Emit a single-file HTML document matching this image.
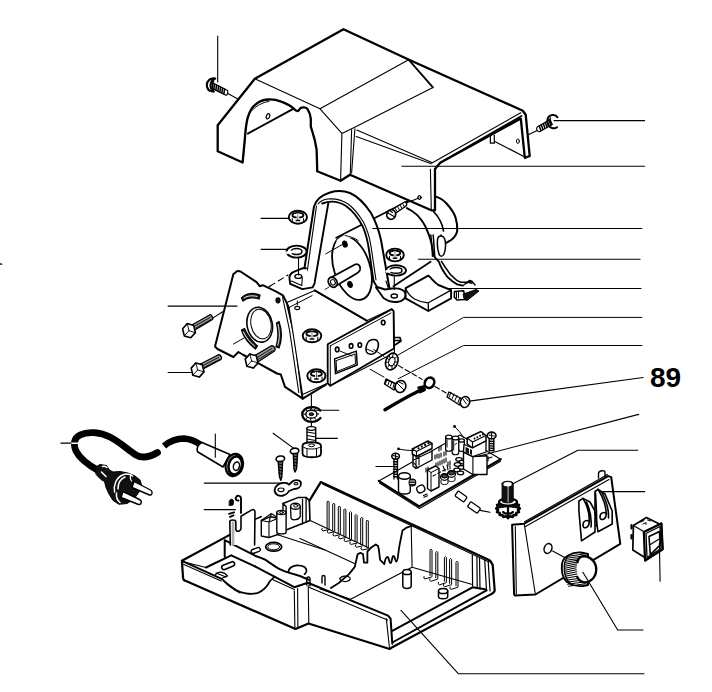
<!DOCTYPE html>
<html><head><meta charset="utf-8"><style>
html,body{margin:0;padding:0;background:#fff;width:712px;height:692px;overflow:hidden;}
svg{display:block;}
text{font-family:"Liberation Sans",sans-serif;}
</style></head><body>
<svg width="712" height="692" viewBox="0 0 712 692" fill="none" stroke="#000" stroke-linejoin="round" stroke-linecap="round">
<!-- HOUSING -->
<g id="housing">
<path stroke-width="2.3" fill="#fff" d="M217.7,125.2 L254.8,78.8 L343.5,29.2 L409,59.7 L522.8,110.7 L525.7,114.7 L529.7,156 L524.8,157.9 L520.8,118.6 L440.2,162.8 L435,169 L435,210.3 L431.3,210.3 L350,174.7 L340.6,180.8 L317.2,171.2 L317,161.4 L316.6,149.8 L314.9,140.6 L312.6,132.5 L310.8,126.7 L310.8,118.6 C310.5,115 309.5,112 307.4,108.8 C305.5,107 302,107 300.4,108.2 L298.1,111.1 L295.8,110.5 C292,106.5 288,104 281.9,101.8 C277,100 272,99.3 268,99.5 C262,100 258,102 255.3,104.7 C252,107 249.5,112 247.8,117.4 C246.5,122 245.5,130 244.9,138.2 L243.8,149.8 L242.6,162.5 L217.7,151.3 Z"/>
<path stroke-width="1.1" d="M254.8,78.8 L320,108.8 L408.6,59.7 M320,108.8 L341.9,133.4 L340.6,180.8 M341.9,133.4 L354.2,127.5 L432.9,87.4 M356.8,130.1 L432.4,162.8 L520.8,112.7 M356.2,136.6 L431.3,163.7 M351.6,130 L350.3,174.3 M354.9,128.8 L351.6,173 M430.4,169.2 L431.3,210.3"/>
<path stroke-width="1.8" d="M408.6,59.7 L432.9,87.4 M440.2,162.8 L521.5,116"/>
<path stroke-width="1.9" d="M247.8,133.6 L292.3,109.3"/>
<path stroke-width="1" d="M251.9,110.5 C256,106 262,102.5 269.2,101.2 M246.1,126.7 L243.2,160.2"/>
<ellipse cx="268" cy="116.3" rx="1.6" ry="2.7" stroke-width="1.2" transform="rotate(20 268 116.3)"/>
<path stroke-width="1.2" d="M490.4,135.3 L490.4,143.2 L494.3,143.2 L494.3,135.3 M494.3,141.2 L524.8,157"/>
<ellipse cx="517.9" cy="141.2" rx="1.5" ry="2.2" stroke-width="1"/>
<ellipse cx="419.5" cy="197.5" rx="1.6" ry="1.8" stroke-width="1"/>
</g>

<!-- screws near housing + leaders -->
<g id="leaders1" stroke-width="1.1">
<path d="M217.7,36 L217.7,82 M228.3,93.8 L237.4,98.7 M554,120.6 L644.6,120.6 M528.8,134.6 L537.2,130.4 M401.9,166.3 L644.6,166.3"/>
</g>
<g id="screw1">
<path stroke-width="1.2" fill="#fff" d="M213,83 L227.2,90.3 C228.6,91.2 227.6,95.3 226,95.3 L212.5,88.6 Z"/>
<path stroke-width="1.5" d="M214.5,84.2 l-0.6,4.6 M216.5,85.2 l-0.6,4.6 M218.5,86.2 l-0.6,4.6 M220.5,87.2 l-0.6,4.6 M222.5,88.2 l-0.6,4.6 M224.5,89.2 l-0.6,4.6"/>
<path stroke-width="2.1" fill="#fff" d="M215.3,78.6 C210.5,77.5 206.8,81 206.8,85 C206.8,89 209.5,91.5 213.8,91.6 C211,89.5 210,86.5 210.8,83.5 C211.5,81 213,79.5 215.3,78.6 Z"/>
<path stroke-width="1.3" d="M213.6,81.5 C212,83.5 211.8,87 213.6,89.8"/>
</g>
<g id="screw2">
<path stroke-width="1.2" fill="#fff" d="M537,127.2 L550,119.6 L552.3,124.6 L539.5,131.7 C537.5,132 536,129 537,127.2 Z"/>
<path stroke-width="1.5" d="M539.3,126 l1.6,4.6 M541.3,124.8 l1.6,4.6 M543.3,123.6 l1.6,4.6 M545.3,122.4 l1.6,4.6 M547.3,121.2 l1.6,4.6 M549.3,120 l1.6,4.6"/>
<path stroke-width="2" d="M557.5,117.3 C555.5,114.5 551.5,114 549,116.5 C547,118.5 546.8,122.5 548.5,125.5 C550.5,128.5 554.5,129 557,127.2"/>
<path stroke-width="1.3" d="M550.5,118 C549.5,120 549.5,123 551,125.5"/>
</g>
<!-- MOTOR -->
<g id="motor">
<path stroke-width="1.8" d="M336.2,237.7 L408,201"/>
<path stroke-width="2" d="M435.8,196.6 C440,198 444,200.5 447,204 C451,208.5 454,213 455.5,217.4 C457,222 457.5,227 457.2,231.2 C456.5,234 455.5,235.5 454.3,237 C452.5,239.5 450.5,241 446.2,242.8"/>
<path stroke-width="1.9" d="M406.9,208.1 C411,210 414.5,212.5 417.3,215.1 C420.5,218.5 423,222 424.9,225.5 C427,230 428.8,234 430,238.2 C431.3,242 432,245.5 432.4,248.6 L434,256 C435.5,258.5 437,260 438.7,261.4 C440,264.5 441,267.5 442.6,269.8 C444.5,273 446,275.5 448.2,277.7 C451,280.5 454,282.8 457.2,284.4 L462.8,285.6"/>
<path stroke-width="1.6" d="M433.5,211.6 C435.5,213.5 437,215.5 438.2,217.4 C440,220 441.2,222.5 442.2,225.5 L443.5,231 M441.5,261.4 C443.5,264.5 445,267.5 447.1,269.8 C449,273 451,275.5 453.8,277.7 C456,280 458,281.5 460.6,282.2 L468.4,282.2 L471.8,283.3"/>
<path stroke-width="1.5" d="M430.8,235 C431.5,242 432.2,249 432.5,256.3 M433.2,235 C433.8,242 434.3,249 434.7,256.3 M446.2,242.8 C444,241.5 442,238 441,235"/>
<path stroke-width="1.5" fill="#fff" d="M437.8,238 C439,235 443,235.5 444.5,238.5 C446,242 446,249 444,254 C442.5,257 440,257 439,254 C437.5,249.5 437,243 437.8,238 Z"/>
<path stroke-width="1.4" d="M467,283 L469.5,280.5 L472,281.5"/>
<ellipse cx="352" cy="268" rx="18" ry="33" stroke-width="1.8" fill="#fff" transform="rotate(-18 352 268)"/>
<path stroke="#fff" stroke-width="3" d="M338,241 C343,236.5 350,235.5 356,237.5"/>
<path stroke-width="1" d="M345.6,235.6 C350,236.5 355,238 358.2,240.6 M325.8,253.9 L342,244.7"/>
<ellipse cx="344.9" cy="244.1" rx="2.2" ry="3" stroke-width="1.2" fill="#000" transform="rotate(-15 344.9 244.1)"/>
<ellipse cx="350" cy="284.5" rx="2.2" ry="3" stroke-width="1.2" fill="#000" transform="rotate(-15 350 284.5)"/>
<path stroke-width="1.8" fill="#fff" d="M331,277.5 L355,264.5 C358.5,263 361,266.5 360,270 C359.5,271.5 358.5,272.5 357,273.3 L335,286.5 Z"/>
<ellipse cx="332.7" cy="282.2" rx="4.2" ry="5.3" stroke-width="1.8" fill="#fff" transform="rotate(-30 332.7 282.2)"/>
<ellipse cx="332.9" cy="282.3" rx="2.2" ry="2.8" stroke-width="1.1" transform="rotate(-30 332.9 282.3)"/>
<path stroke-width="0.9" d="M325,289.5 L329,287"/>
</g>
<!-- screw on housing front -->
<g id="screw3">
<path stroke-width="1.1" d="M401,205 L419,198"/>
<ellipse cx="419.5" cy="197.5" rx="1.6" ry="1.9" stroke-width="1"/>
<path stroke-width="1.4" fill="#fff" d="M392,209.5 L404.5,202 C406.5,201.5 407.5,204.5 406,206 L394.5,214 Z"/>
<path stroke-width="1" d="M395,208 l2,3.5 M397.5,206.5 l2,3.5 M400,205 l2,3.5 M402.5,203.5 l2,3.5"/>
<ellipse cx="391.2" cy="214.5" rx="4.4" ry="4.8" stroke-width="1.8" fill="#fff" transform="rotate(20 391.2 214.5)"/>
<path stroke-width="1.1" d="M388,213 L394,216.5 M390,211 L392.5,212.5"/>
</g>
<!-- ARCH STRAP -->
<g id="arch">
<path fill="#fff" stroke="none" d="M302,284 L314,206.5 C316,199 322,195 330,192.5 C337,190.5 344,190.8 350,193 C358,196.5 365,204 371,213 C376,222 379,231 381,240 L386,281 L375,281 L369,250 C368,243 366,234 363,227 C359,219 353,211 346,206 C340,202.5 334,202 328.5,203 L312.6,285.8 Z"/>
<path stroke-width="2" d="M302,284 L314,206.5 C316,199 322,195 330,192.5 C337,190.5 344,190.8 350,193 C358,196.5 365,204 371,213 C376,222 379,231 381,240 L389.5,288.6"/>
<path stroke-width="1.1" d="M318,204 C321,200.5 325,199 329,198.9 C336,198.5 342,200 348.1,204 C353,207.5 359,215 363.3,221.7 C367,229 369.5,237 370.8,245 L376,280 M316.5,206 L305,287"/>
<path stroke-width="1.9" d="M322.2,203.5 C330,200.5 338,201 346,206 C353,211 359,219 363,227 C366,234 368,243 369,250 L373.5,281 M328.5,202.1 L314.5,283.3"/>
<path stroke-width="1.9" fill="#fff" d="M306,268.2 L302.3,268.3 L293.7,271.8 C290,273.5 289,276.5 289.6,279.5 L290.2,283.9 L302.3,289.1 L312.7,287.4 L314.5,283.3"/>
<path stroke-width="1.1" d="M291.4,281 L301.8,285.6 L302.3,277"/>
<ellipse cx="298.3" cy="276.4" rx="3.4" ry="2" stroke-width="1.4"/>
<path stroke-width="1.9" fill="#fff" d="M373.5,281 L377,287 L385,289.5 L392,288.5 C398,288 404,289.5 405.5,293.5 C406.5,297.5 403,301.5 397,302 C392,302.3 387,300.5 383.5,298 L376,287.5"/>
<path stroke-width="1.1" d="M386,281 L388.5,288.8"/>
<ellipse cx="394.3" cy="296" rx="3.2" ry="2" stroke-width="1.4"/>
</g>


<!-- nuts & washers column -->
<path stroke-width="1.1" stroke-dasharray="6 4" d="M269.7,286.3 L288,275"/>
<g id="nutsL">
<path stroke-width="1.1" d="M261.2,218.4 L289.4,218.4 M261.2,249.4 L288,249.4 M298.5,257.5 L298.5,275 M269.1,286.7 L270,286.1 M372.7,228.5 L641.9,228.5 M418.4,259.3 L640.1,259.3 M418.4,288.5 L641,288.5 M394.3,276.4 L394.3,289.4"/>
<g><ellipse cx="297.9" cy="217.2" rx="9.12" ry="6.5120000000000005" stroke-width="1.9" fill="#fff"/>
<ellipse cx="297.9" cy="215.25" rx="5.47" ry="2.34" stroke-width="1.9"/>
<path stroke-width="1.5" stroke-linecap="butt" d="M297.9,213.16 L297.9,220.46 M295.62,220.46 L300.18,220.46"/>
<path stroke="#fff" stroke-width="1" d="M297.10,213.62 L297.10,219.15 M298.70,213.62 L298.70,219.15"/>
<path stroke-width="1" d="M292.25,218.50 L292.25,222.08 M303.55,218.50 L303.55,222.08"/></g><g><ellipse cx="296.6" cy="251.6" rx="10" ry="6" stroke-width="1.9" fill="#fff"/>
<ellipse cx="296.6" cy="251.6" rx="5.4" ry="3" stroke-width="1.5"/>
<path stroke="#fff" stroke-width="2.6" d="M287.10,252.60 L291.70,252.10"/></g><g><ellipse cx="395.0" cy="255.0" rx="8.835" ry="6.336" stroke-width="1.9" fill="#fff"/>
<ellipse cx="395.0" cy="253.10" rx="5.30" ry="2.28" stroke-width="1.9"/>
<path stroke-width="1.5" stroke-linecap="butt" d="M395.0,251.07 L395.0,258.17 M392.79,258.17 L397.21,258.17"/>
<path stroke="#fff" stroke-width="1" d="M394.20,251.52 L394.20,256.90 M395.80,251.52 L395.80,256.90"/>
<path stroke-width="1" d="M389.52,256.27 L389.52,259.75 M400.48,256.27 L400.48,259.75"/></g><g><ellipse cx="396" cy="270.4" rx="10" ry="5.2" stroke-width="1.9" fill="#fff"/>
<ellipse cx="396" cy="270.4" rx="6" ry="2.8" stroke-width="1.5"/>
<path stroke="#fff" stroke-width="2.6" d="M386.50,271.40 L390.50,270.90"/></g>
</g>
<!-- saddle + block + connector -->
<g id="saddle">
<path stroke-width="1.8" d="M393.5,286.2 L430.6,261.8"/>
<path stroke-width="1.9" fill="#fff" d="M405.6,288.2 L428.3,275.6 C430,277 431,278 432.1,279.4 C434,281.5 436,283.5 438.4,285 L451.1,290.1 L451.1,298.3 L428.3,311 L405.6,298.3 Z"/>
<path stroke-width="1.3" d="M405.8,289 C407.5,293 410,296 414.4,299 C419,301.5 423.5,302.5 428.3,302.8 L451.1,290.1 M428.3,302.8 L428.3,311"/>
<path stroke-width="1.6" fill="#fff" d="M454.5,291.5 L463.5,290.8 L465,296 L465,299.5 L457,300 L454.3,297 Z"/>
<path fill="#111" stroke-width="1" d="M463.5,294 L476,289.5 L479,291 L467,300.5 L464.5,299.5 Z"/>
<path stroke-width="1" d="M456.5,292.5 L456.5,298 M458.5,292.5 L458.5,298"/>
<path stroke-width="1.3" d="M463.7,285 L469,281 L472,281.5 L475.1,285"/>
</g>
<!-- PLATE (motor mount) -->
<g id="plate">
<path stroke-width="2" fill="#fff" d="M235.5,272.5 C236.5,271 238.5,270.7 240.5,271.5 L256.6,282.2 L259.7,286.2 L262.7,285.2 L275.8,291.3 L282.9,295.3 L287,303.4 L295,337.8 L301.5,391.5 L302.7,398.7 L285,386.9 L280.8,374.5 L277,373.5 L243.5,355 L238.4,352 L233.4,357 L217.5,349 L215,346.5 L233.4,274.1 Z"/>
<path stroke-width="1.1" d="M282.5,297 L289.5,330 L298.8,392.5"/>
<ellipse cx="259.7" cy="324.7" rx="12.6" ry="17.6" stroke-width="1.6" transform="rotate(-12 259.7 324.7)" fill="#fff"/>
<ellipse cx="261" cy="324" rx="10" ry="15" stroke-width="1" transform="rotate(-12 261 324)"/>
<path stroke-width="1.3" fill="#222" d="M241.5,298 C246,293 254,292.5 260,295 L259,299 C254,297 247,297.5 243,301 Z"/>
<path stroke="#fff" stroke-width="0.9" d="M244,298 C248,295.5 253,295.3 257,296.5"/>
<path stroke-width="1.3" fill="#222" d="M241.5,330 C244,338 249,344 255.5,349 L257.5,346 C252,341 247,335 244.5,328.5 Z"/>
<path stroke="#fff" stroke-width="0.9" d="M243.5,332 C246,338 250,342.5 254.5,346"/>
<path stroke-width="1.3" fill="#222" d="M279,321.5 C282,330 282,340 279,348 L276,347 C278.5,339 278.5,331 276.5,323 Z"/>
<path stroke="#fff" stroke-width="0.9" d="M278,324.5 C279.8,331 279.8,339 277.8,345"/>
<ellipse cx="278" cy="300.3" rx="2" ry="2.5" stroke-width="1.2" fill="#111"/>
<path stroke-width="1" d="M233.6,344 L244,338"/>
</g>
<!-- bolts left -->
<g id="bolts">
<path stroke-width="1.1" d="M168.1,306.1 L237,306.1 M168.1,372.5 L198.2,372.5 M212.3,318.4 L222.7,311.7"/>
<path stroke-width="1.4" fill="#999" d="M191,325.5 L209.5,315 C211.5,314 213.5,318 212.5,319.5 L194,330.5 Z"/>
<path stroke-width="0.9" d="M195,326 L210,317.5 M196,328 L211,319.5"/>
<path d="M195.4,332.6 L190.7,337.8 L184.3,335.9 L182.6,328.8 L187.3,323.6 L193.7,325.5 Z" stroke-width="1.6" fill="#fff"/>
<path stroke-width="0.9" d="M189.0,330.7 L195.4,332.6 M189.0,330.7 L184.3,335.9 M189.0,330.7 L187.3,323.6"/>
<path stroke-width="1.4" fill="#999" d="M199.5,364.5 L218,355 C220.5,354 222.5,358 221,359.5 L202,369.5 Z"/>
<path stroke-width="0.9" d="M203,365.5 L218.5,357.5 M204,367.5 L219.5,359.5"/>
<path d="M204.0,371.9 L199.3,377.1 L192.9,375.2 L191.2,368.1 L195.9,362.9 L202.3,364.8 Z" stroke-width="1.6" fill="#fff"/>
<path stroke-width="0.9" d="M197.6,370.0 L204.0,371.9 M197.6,370.0 L192.9,375.2 M197.6,370.0 L195.9,362.9"/>
<path stroke-width="1.4" fill="#999" d="M254,356 L271,346 C274,345 276,349 274.5,351 L257,362.5 Z"/>
<path stroke-width="0.9" d="M257,357.5 L272,348.5 M258,359.5 L273,350.5"/>
<path d="M258.0,362.9 L253.3,368.1 L246.9,366.2 L245.2,359.1 L249.9,353.9 L256.3,355.8 Z" stroke-width="1.6" fill="#fff"/>
<path stroke-width="0.9" d="M251.6,361.0 L258.0,362.9 M251.6,361.0 L246.9,366.2 M251.6,361.0 L249.9,353.9"/>
</g>


<!-- BOX (bracket body) -->
<g id="box">
<path stroke-width="1.1" fill="#fff" d="M286.9,302.5 L314.7,290.4 L366.7,320.7 L391.8,309.1 L393.6,311.2 L394.4,352.8 L330.3,385.8 L327.7,383.2 L302.5,394.4 L289,307 Z"/>
<path stroke-width="2" d="M314.7,290.4 L366.7,320.7 M302.7,398.7 L326.3,384.4"/>
<path stroke-width="1.8" fill="#fff" d="M327.7,344.2 L391.8,309.1 L393.6,311.2 L394,348.5 L330.3,385.8 L327.7,383.2 Z"/>
<path stroke-width="1.6" d="M394,337.5 L400,337.5 L401,341 L394.2,345.5 M394.2,340.5 L399.5,340.5"/>
<path stroke-width="1" d="M330.3,345.9 L391,313 M330.3,345.9 L330.3,385.8 M288.7,307.7 L312.1,295.6"/>
<path stroke-width="1" stroke-dasharray="4 3" d="M297.3,301 L297.3,308"/>
<ellipse cx="297.3" cy="308" rx="2.5" ry="1.6" stroke-width="1.1"/>
<!-- nuts on box -->
<g><ellipse cx="312.0" cy="335.8" rx="9.31" ry="6.5120000000000005" stroke-width="1.9" fill="#fff"/>
<ellipse cx="312.0" cy="333.85" rx="5.59" ry="2.34" stroke-width="1.9"/>
<path stroke-width="1.5" stroke-linecap="butt" d="M312.0,331.76 L312.0,339.06 M309.67,339.06 L314.33,339.06"/>
<path stroke="#fff" stroke-width="1" d="M311.20,332.22 L311.20,337.75 M312.80,332.22 L312.80,337.75"/>
<path stroke-width="1" d="M306.23,337.10 L306.23,340.68 M317.77,337.10 L317.77,340.68"/></g><g><ellipse cx="316.4" cy="375.8" rx="9.12" ry="6.5120000000000005" stroke-width="1.9" fill="#fff"/>
<ellipse cx="316.4" cy="373.85" rx="5.47" ry="2.34" stroke-width="1.9"/>
<path stroke-width="1.5" stroke-linecap="butt" d="M316.4,371.76 L316.4,379.06 M314.12,379.06 L318.68,379.06"/>
<path stroke="#fff" stroke-width="1" d="M315.60,372.22 L315.60,377.75 M317.20,372.22 L317.20,377.75"/>
<path stroke-width="1" d="M310.75,377.10 L310.75,380.68 M322.05,377.10 L322.05,380.68"/></g>
<!-- end plate features -->
<path stroke-width="1.5" d="M334.6,358.9 L356.3,351.1 L357.2,365 L335.5,373.6 Z"/>
<path stroke-width="1" d="M336.5,360.5 L355,354 L355.5,364 L337,371.5 Z"/>
<ellipse cx="337.2" cy="349.4" rx="1.8" ry="2.3" stroke-width="1.6"/>
<ellipse cx="351.1" cy="345.9" rx="1.8" ry="2.3" stroke-width="1.6"/>
<ellipse cx="359.8" cy="345" rx="1.8" ry="2.3" stroke-width="1.6"/>
<ellipse cx="383.2" cy="322.5" rx="1.8" ry="2.3" stroke-width="1.6"/>
<path stroke-width="1.6" d="M367.5,343 C369,339.5 374,338.5 377,340.5 C379.5,343 378.5,349 375.5,352.5 C372.5,355 368,355 366.5,352 C365.5,349 366,346 367.5,343 Z"/>
<path stroke-width="1" d="M366.8,349 L373.6,352 M340,351 L352,356 M373.6,349.4 L384,356.3 M370.2,369.3 L384,377.1 M398.3,354.9 L463.6,317.4 L641.9,317.4 M398.3,378.7 L463.6,345.5 L641.9,345.5"/>
</g>
<!-- lock washer, screw, terminal -->
<g id="smallparts">
<ellipse cx="391.8" cy="361.5" rx="6" ry="8.6" stroke-width="1.6" fill="#fff" transform="rotate(20 391.8 361.5)"/>
<ellipse cx="391.8" cy="361.5" rx="3" ry="4.5" stroke-width="1.1" transform="rotate(20 391.8 361.5)"/>
<path stroke-width="1" d="M389,355 L390,358 M393,354.5 L392.5,357.5 M396.5,357 L394.5,359 M397.5,362 L395,362 M396,366.5 L394,364.5 M392,368.5 L392,365.5 M388,367 L389.5,364.5 M386,362.5 L388.5,362 M386.5,358 L389,359.5"/>
<path stroke-width="1.4" fill="#fff" d="M386,379 L396,384 L394,390 L384.5,384 Z"/>
<path stroke-width="1" d="M387,379.5 l-1.5,4 M389.5,380.5 l-1.5,4.5 M392,381.5 l-1.5,4.5 M394.5,383 l-1.5,4.5"/>
<ellipse cx="400.5" cy="386.5" rx="5.3" ry="6" stroke-width="1.6" fill="#fff" transform="rotate(20 400.5 386.5)"/>
<path stroke-width="1" d="M397,383 L404,390 M399,382 L403,384"/>
</g>


<!-- POWER CORD -->
<g id="cord">
<path stroke-width="6.8" d="M99,471 C90,466 80,459 76,451 C73,444 74,438 80,435 C88,431 100,432 110,437 C120,442 128,450 136,455 C143,459 150,457 157.5,452.5"/>
<path stroke-width="6.5" stroke-linecap="butt" d="M164,446 C170,441 176,438.5 184,438.5 C191,439 196,441.5 201,445"/>
<path stroke="#fff" stroke-width="1.6" d="M70,443.3 L80,443.3"/>
<path stroke-width="1.1" d="M60.9,443.1 L71,443.1"/>
<!-- plug -->
<path fill="#111" stroke-width="1" d="M95,467.5 L100,464.5 L106.5,465.5 L109.5,470 L113,472 L120,471.5 L128,473 L135,476 L140,480 L141.5,485 L139,492 L134,499 L127,503.5 L119,504.3 L113,500.5 L109,494 L106,487.5 L104.5,481.5 L101,479.5 L96.5,475 Z"/>
<path stroke="#fff" stroke-width="1.6" d="M101.5,472 L106,476.5 M102.5,466.5 C104,466 106,466.5 107,467.5"/>
<path stroke="#fff" stroke-width="1.5" d="M114.5,492 C113.5,485 116,478 122.5,475 C126,473.5 129.5,474 132.5,476 M116.5,493 C116,498 118,501 120,502.5 M118,489 C118,483 120,479 125,477"/>
<path stroke="#fff" stroke-width="1.2" d="M131,474.5 C130,477 130,479 131.5,481"/>
<path fill="#fff" stroke-width="1.4" d="M134,481.5 L150.5,490 C153,491.5 152.5,495.5 149.5,495 L132,487.5 Z"/>
<path fill="#fff" stroke-width="1.4" d="M123,491.5 L139.5,499.5 C142.5,501 141.5,505 138.5,504.5 L121,497.5 Z"/>
</g>
<!-- grommet -->
<g id="grommet">
<path stroke-width="1.6" fill="#fff" d="M202,442.5 L230,454.4 L223,467 L197.5,451.8 C196,449 198,444 202,442.5 Z"/>
<ellipse cx="234.3" cy="465" rx="8.6" ry="11.2" stroke-width="2.2" fill="#fff" transform="rotate(15 234.3 465)"/>
<ellipse cx="235.2" cy="465.4" rx="6.6" ry="9.2" stroke-width="2.6" transform="rotate(15 235.2 465.4)"/>
<ellipse cx="236.4" cy="466.2" rx="3" ry="4.3" stroke-width="1.4" transform="rotate(15 236.4 466.2)"/>
<path stroke-width="1.1" d="M215.3,434 L215.3,457.2"/>
</g>
<!-- PCB -->
<g id="pcb">
<path stroke-width="1.2" fill="#fff" d="M378.8,480.9 L460,435 L500.7,459.2 L419.2,506.4 Z"/>
<path stroke-width="2.2" d="M378.8,480.9 L419.2,506.4 L500.7,459.2"/>
<path stroke-width="1.1" d="M379.5,483 L419.5,508.5 L500.5,461.3"/>
<!-- left terminal block + bracket -->
<path stroke-width="1.4" fill="#fff" d="M413,455 L413,466 L416,468.5 L432,460 L432,451"/>
<path stroke-width="1.1" d="M416,457.5 L416,468.5 M419,456 L419,465 M413,460 L431.5,451.5 M414,463 L418,468"/>
<path stroke-width="1.5" fill="#fff" d="M412.3,449 L428,441 L432,443.5 L432,448.5 L416.5,456.5 L412.3,454 Z"/>
<path stroke-width="1.1" d="M412.3,449 L416.5,451.5 L432,443.5 M416.5,451.5 L416.5,456.5"/>
<circle cx="418.5" cy="448.3" r="1.1" fill="#000" stroke="none"/>
<circle cx="421.8" cy="446.6" r="1.1" fill="#000" stroke="none"/>
<circle cx="425.1" cy="444.9" r="1.1" fill="#000" stroke="none"/>
<circle cx="428.4" cy="443.2" r="1.1" fill="#000" stroke="none"/>
<path stroke-width="1" d="M398.5,448.9 C403,450 408,450.5 413.5,450.6 M454.5,426.4 C458,430 461,433 463.5,437.5"/>
<circle cx="398.5" cy="448.9" r="1.4" fill="#000" stroke="none"/>
<circle cx="454.5" cy="426.4" r="1.4" fill="#000" stroke="none"/>
<!-- resistor dashes -->
<path stroke-width="1.1" d="M439,447 L439,451 M441,446 L441,450 M439,454 L439,458 M441,453 L441,457 M435,455 L435,459 M437,454 L437,458 M444,452 L444,456 M446,451 L446,455 M444,459 L444,463 M446,458 L446,462 M440,461 L440,465 M442,460 L442,464 M448,462 L448,466 M450,461 L450,465 M436,463 L436,467 M438,462 L438,466 M426,468 L426,472 M428,467 L428,471"/>
<!-- big cap -->
<path stroke-width="1.4" fill="#fff" d="M398.5,476 L398.5,491 C398.5,495 410.3,495 410.3,491 L410.3,476"/>
<ellipse cx="404.4" cy="476" rx="5.9" ry="3.2" stroke-width="1.4" fill="#fff"/>
<ellipse cx="412.4" cy="482.5" rx="3.3" ry="3.5" stroke-width="1.2" fill="#222"/>
<path stroke="#fff" stroke-width="0.8" d="M410,481 L414.5,481 M410,483.5 L414.5,483.5"/>
<rect x="416.8" y="485.5" width="8" height="7" rx="3" stroke-width="1.3" fill="#fff" transform="rotate(-25 420.8 489)"/>
<path stroke-width="1.2" d="M423.5,495.5 L427,494 M424,497.3 L427.5,495.8"/>
<!-- relay white -->
<path stroke-width="1.4" fill="#fff" d="M427.5,470 L435.5,466 L439,468.5 L439,487 L431,491 L427.5,488.5 Z"/>
<path stroke-width="1" d="M427.5,470 L431,472.5 L439,468.5 M431,472.5 L431,491"/>
<!-- dark coils -->
<ellipse cx="444.5" cy="477" rx="4" ry="3.3" stroke-width="1.3" fill="#fff"/>
<ellipse cx="444.5" cy="476" rx="2.8" ry="1.8" stroke-width="1.2" fill="#444"/>
<ellipse cx="451.5" cy="474" rx="4" ry="3.3" stroke-width="1.3" fill="#fff"/>
<ellipse cx="451.5" cy="473" rx="2.8" ry="1.8" stroke-width="1.2" fill="#444"/>
<path stroke-width="1" d="M441,480.5 L441,483 C441,485 448,485 448,483 L448,480.5 M448,477.5 L448,480 C448,482 455,482 455,480 L455,477.5"/>
<path stroke-width="1.1" d="M443,466 L445,471 M447,465 L448,470 M450,466 L450,469"/>
<!-- caps cluster -->
<path stroke-width="1.2" fill="#fff" d="M445.6,437 L445.6,449 C445.6,452 452.2,452 452.2,449 L452.2,437"/>
<ellipse cx="448.9" cy="437" rx="3.3" ry="1.9" stroke-width="1.3" fill="#fff"/>
<path stroke-width="1.2" fill="#fff" d="M452.2,438 L452.2,452.5 C452.2,455.5 458.8,455.5 458.8,452.5 L458.8,438"/>
<ellipse cx="455.5" cy="438" rx="3.3" ry="1.9" stroke-width="1.3" fill="#fff"/>
<path stroke-width="1.2" fill="#fff" d="M458.8,440.5 L458.8,449.5 C458.8,452 464.4,452 464.4,449.5 L464.4,440.5"/>
<ellipse cx="461.6" cy="440.5" rx="2.8" ry="1.7" stroke-width="1.3" fill="#fff"/>
<path stroke-width="1" d="M447,440 L447,447 M453.7,441 L453.7,450 M455,444.5 L456.5,443.5"/>
<!-- trimmer disks -->
<ellipse cx="459" cy="459.5" rx="3.2" ry="1.8" stroke-width="1.3" fill="#fff"/>
<ellipse cx="462.5" cy="462" rx="3.2" ry="1.8" stroke-width="1.3" fill="#fff"/>
<ellipse cx="457.5" cy="464.5" rx="3.2" ry="1.8" stroke-width="1.3" fill="#fff"/>
<ellipse cx="461.5" cy="467.5" rx="3.2" ry="1.8" stroke-width="1.3" fill="#fff"/>
<ellipse cx="457" cy="470" rx="3.2" ry="1.8" stroke-width="1.3" fill="#fff"/>
<ellipse cx="460.5" cy="473" rx="3.2" ry="1.8" stroke-width="1.3" fill="#fff"/>
<!-- right relay box + terminal -->
<path stroke-width="1.4" fill="#fff" d="M463.5,452 L472.9,456.6 L487,455.7 L487,474.5 L472.9,474.5 L463.5,469 Z"/>
<path stroke-width="1.1" d="M472.9,456.6 L472.9,474.5"/>
<path stroke-width="1.5" fill="#fff" d="M467.2,438 L481,431.5 L486,435.5 L486,441 L472.5,448 L467.2,444 Z"/>
<path stroke-width="1.1" d="M467.2,438 L472.5,442 L486,435.5 M472.5,442 L472.5,448"/>
<circle cx="474.5" cy="438.6" r="1" fill="#000" stroke="none"/>
<circle cx="477.3" cy="437.2" r="1" fill="#000" stroke="none"/>
<circle cx="480.1" cy="435.8" r="1" fill="#000" stroke="none"/>
<circle cx="482.9" cy="434.4" r="1" fill="#000" stroke="none"/>
<path stroke-width="1.3" fill="#fff" d="M464,444.5 L472.5,448 L486,441 L486,452 L472.9,456.6 L463.5,452 Z"/>
<path fill="#111" stroke="none" d="M465.5,447 L469,448.5 L469,454 L465.5,452.5 Z M470,449 L472,450 L472,455 L470,454 Z"/>
<path stroke-width="1.1" d="M488,456.5 L488,461 M488,458.5 L492,457"/>
<!-- screws -->
<ellipse cx="395.6" cy="456.3" rx="3.8" ry="3" stroke-width="1.6" fill="#fff"/>
<path stroke-width="1.1" d="M393.2,455.5 L398,457 M395.6,453.6 L395.6,459"/>
<path stroke-width="1.3" d="M394,459 L394,479 M397.5,459 L397.5,479 M393.5,461.5 l4,0.5 M393.5,464 l4,0.5 M393.5,466.5 l4,0.5 M393.5,469 l4,0.5 M393.5,471.5 l4,0.5 M393.5,474 l4,0.5 M393.5,476.5 l4,0.5"/>
<ellipse cx="491.6" cy="435.5" rx="4.4" ry="3.4" stroke-width="1.6" fill="#fff"/>
<path stroke-width="1.1" d="M489,435 L494.5,436 M491.6,432.8 L491.6,438"/>
<path stroke-width="1.4" d="M489.2,438.5 L489.2,451 M493.8,438.5 L493.8,451 M489,441 l5,0.6 M489,443.3 l5,0.6 M489,445.6 l5,0.6 M489,447.9 l5,0.6 M489,450.2 l5,0.6"/>
<path stroke-width="1.1" d="M375.9,466.5 L393.5,466.5 M478.5,456.2 L638.6,414.4 M480,510.4 L490,512.3"/>
<path stroke-width="1.1" stroke-dasharray="3 2.5" d="M433,476 L446.5,469"/>
<!-- fuses -->
<rect x="455.5" y="493.5" width="11" height="6" rx="1.2" stroke-width="1.3" fill="#fff" transform="rotate(35 461 496.5)"/>
<rect x="468" y="504.5" width="12" height="6" rx="1.2" stroke-width="1.3" fill="#fff" transform="rotate(35 474 507.5)"/>
</g>


<!-- screws column below box -->
<g id="col2">
<path stroke-width="1.1" d="M311.4,395 L311.4,408.7 M311.4,410.2 L338.8,410.2 M311.4,421 L311.4,428 M310,438.4 L337.4,438.4 M273.1,433.3 L296.9,450.6 M204.2,483.1 L287.6,483.1 M204.2,509.6 L235.4,509.6"/>
<path stroke-width="2.3" d="M320.2,410.5 C318,407.5 314.5,407 311,407.2 C305.5,407.6 302,411 302.3,414.8 C302.6,418.8 306.5,421.8 311.5,421.8 C315.5,421.8 318.5,420.3 320.5,418"/>
<ellipse cx="311.4" cy="414.2" rx="5.6" ry="3.9" stroke-width="1.4"/>
<ellipse cx="311.4" cy="414.2" rx="2.2" ry="1.5" stroke-width="1" fill="#333"/>
<path stroke-width="1" d="M306,414 L304,414.2 M307.3,411.2 L305.8,409.8 M310.5,410.3 L310.3,408.5 M314,410.6 L315,409 M316.8,414 L318.8,414 M314.5,417.5 L315.5,419.3 M310.8,418.1 L310.6,420 M307.5,417.3 L306,418.8"/>
<path stroke-width="1.4" fill="#fff" d="M307,428 L315.7,428 L315.7,444 L307,444 Z"/>
<ellipse cx="311.3" cy="428.5" rx="4.3" ry="1.8" stroke-width="1.3" fill="#fff"/>
<path stroke-width="1.1" d="M307,432 l8.7,1.5 M307,435.5 l8.7,1.5 M307,439 l8.7,1.5"/>
<path stroke-width="1.8" fill="#fff" d="M302.5,446 C302.5,441 321,441 321,446 L321,453.5 C321,458.5 302.5,458.5 302.5,453.5 Z"/>
<path stroke-width="1" d="M302.8,446.5 C305,450 318,450 320.8,446.5 M307,449.5 L307,457 M316.5,449.5 L316.5,457"/>
<ellipse cx="311.6" cy="445.3" rx="3" ry="1.4" stroke-width="1"/>
<!-- wood screws -->
<ellipse cx="294.6" cy="451" rx="4.3" ry="2.8" stroke-width="1.6" fill="#fff" transform="rotate(-10 294.6 451)"/>
<path stroke-width="1.4" fill="#666" d="M293.3,453.5 L297.6,453.5 L296.5,469 L295,472 L294,469 Z"/>
<path stroke-width="1" d="M293.3,456 l4.3,1 M293.4,459 l4,1 M293.6,462 l3.6,1 M293.8,465 l3.2,1"/>
<ellipse cx="280.3" cy="458.8" rx="4.3" ry="2.8" stroke-width="1.6" fill="#fff" transform="rotate(-10 280.3 458.8)"/>
<path stroke-width="1.4" fill="#666" d="M278.2,461.5 L282.6,461.5 L281.8,477 L280.8,480.3 L279.5,477 Z"/>
<path stroke-width="1" d="M278.2,464 l4.3,1 M278.3,467 l4,1 M278.5,470 l3.6,1 M278.7,473 l3.2,1"/>
<!-- ring terminal -->
<path stroke-width="1.8" fill="#fff" d="M277,485.5 C280,482.5 286,482 289,484.5 L293,481 C296,479.5 301,480 301,483.5 C301,487 298,489 294,489 L289,491 C287,495.5 281,497 277.5,495 C273.5,492.5 274,488 277,485.5 Z"/>
<ellipse cx="281" cy="489.8" rx="3" ry="1.8" stroke-width="1.2"/>
<ellipse cx="296" cy="483.8" rx="2" ry="1.2" stroke-width="1.1"/>
</g>
<!-- BASE -->
<g id="base">
<path fill="#fff" stroke="none" d="M181.9,560.8 L230.2,534.6 L309.6,500.3 L320.8,482.1 L489.4,560 L494,590.1 L389.7,647.5 L308.2,623.2 L295.5,629 L185.4,580.5 Z"/>
<!-- outer thick -->
<path stroke-width="2.2" d="M181.9,560.8 L230.2,534.6 M181.9,560.8 L183.1,578.2 Q183.5,580.5 186,581 L295.5,629 L308.5,623.5 L389.7,649 L392.3,647.2 L490.7,594.4 Q494.5,592.5 494.7,590.3 L492.7,565 Q491,560.5 488,559.5 L320.8,482.1 L309.6,500.3"/>
<path stroke-width="2" d="M181.9,560.8 L222.1,579.1 M255,566.4 L294.3,587.2 L307.8,582.7 L388,615.6 L390.6,618.6 L392.3,643.8 M392.3,630.8 L472.5,587.3 M393.2,642 L486.6,590.3 M472.5,587.3 L485.1,589.3"/>
<path stroke-width="1.1" d="M183.3,564.3 L221.2,581 M271.9,579.3 L294.3,589.4 M294.3,590.8 L294.9,629 M297.6,588.5 L297.9,628.5 M308.2,585 L308.8,623.2 M309.5,587.5 L387.5,620 M386.3,618.6 L389.5,648"/>
<!-- left compartment -->
<path stroke-width="1.7" d="M222.1,579.1 C226,583 230,586 236,590 C241,593 250,595 257.3,593.2 C263,591 267,587 270,581 L274.7,576.6"/>
<path stroke-width="1.1" d="M223.5,581 C228,586 234,590 240,593"/>
<path stroke-width="2" d="M224.7,540.2 L255,555.7 C258.5,557 262,558 265.1,559.7 C267.5,561 269.5,562.8 271.9,564.2 C274.5,566 277,567.8 279.7,569.2 C282.5,570.6 285.5,571.8 288.7,572.6 L300,576 L308.9,579.9 M231.2,555.3 L255,566.4 M231.2,555.3 L206,567.5 M224.7,540.2 L224.7,556.4"/>
<path stroke-width="1.1" d="M184,562 L206,567.5 M216,573 L226,577"/>
<rect x="221.5" y="563.5" width="13.5" height="4.5" rx="2.25" stroke-width="1.6" transform="rotate(-22 228 566)"/>
<rect x="251" y="548.5" width="9.5" height="4" rx="2" stroke-width="1.4" transform="rotate(-20 255.5 550.5)"/>
<path stroke-width="1.3" d="M215.5,574.5 C219,571 224,571.5 227.5,576 L222.5,578"/>
<!-- left low wall + clips -->
<path stroke-width="1.5" d="M255,519.4 L261.3,516.5 M283,503.5 L298.4,497.4 L306.1,497.4 L309.2,500.4 L310,520.5 L286.1,530"/>
<path stroke-width="1.4" fill="#fff" d="M261.3,520.5 L270.6,516.7 L278.3,518.2 L278.3,534.4 L269,537.5 L261.3,536 Z"/>
<path stroke-width="1.1" d="M261.3,520.5 L269,522 L278.3,518.2 M269,522 L269,537.5 M261.3,520.5 L271.4,513.5 L269,522 M271.4,513.5 L278.3,518.2 M271.4,513.5 L270.6,516.7"/>
<path stroke-width="1.4" fill="#fff" d="M276.8,512.5 L276.8,532 C276.8,534.5 286.1,534.5 286.1,532 L286.1,512.5"/>
<ellipse cx="281.4" cy="512.5" rx="4.6" ry="2" stroke-width="1.4" fill="#fff"/>
<ellipse cx="281.4" cy="512.5" rx="2" ry="0.9" stroke-width="1"/>
<path stroke-width="1.4" d="M283,503.5 L283,509.5 M286.1,512 L286.1,506.5 L283,503.5"/>
<path stroke-width="1.3" d="M290.5,506.5 L291,518 C292,521 299,520 300.2,516.5 L300.2,506.5 M302.5,499.5 L302.5,524 M306.1,497.4 L306.1,522"/>
<ellipse cx="295.4" cy="506.3" rx="4.8" ry="3" stroke-width="1.4" fill="#fff"/>
<ellipse cx="295.8" cy="505.8" rx="2.2" ry="1.3" stroke-width="1"/>
<path stroke-width="1.6" fill="#fff" d="M230.3,545 L229.8,521.5 C230,519.5 235.5,519.5 235.8,521.5 L235.9,529.7 C236.5,532 240.5,532 241,528.2 L241,516.2 L251.8,509.9 C253.5,509 255,510 255,512.3 L254.6,545"/>
<path stroke="#777" stroke-width="0.8" d="M232.3,522 L232.3,545 M233.8,522 L233.8,545"/>
<path stroke-width="1.9" d="M241,513 L241,498.5 C241,495.5 237,494.8 236,497.5 C235,499 236.5,501 238.5,500.5 M229,513.8 L234,512.3 M230,516.8 L233.5,515.3"/>
<path fill="#000" stroke-width="1" d="M229.5,500.5 C231,498.5 233.5,499 233.5,501.5 L233,505 L229.5,505.5 Z"/>
<ellipse cx="273.7" cy="546.8" rx="8" ry="4.4" stroke-width="1.7"/>
<ellipse cx="273.7" cy="546.8" rx="6" ry="3" stroke-width="1"/>
<path stroke-width="1.7" d="M288.5,572.3 C288,568 293,565.3 297.5,565.3 C302.5,565.3 306.8,567.5 306.5,571 C306.3,572.5 305.5,573.5 304.5,574.2"/>
<path stroke-width="1.1" d="M276.8,534.4 L325,550"/>
<!-- back wall + floor -->
<path stroke-width="1.1" d="M309.6,500.3 L309.6,520.3 L369,548 M300,538.6 L355.6,563.9 M322.5,484 L489,562 M411.2,526 L412.1,567.2 L471.4,584.3 M350.6,599.3 L412.1,567.2 M320,589 L350.6,599.3"/>
<path stroke-width="1.8" d="M330.9,588 L338.8,583 L349.2,573.9 L354.8,566.9 L357.6,554.3 L360.4,552.9 L363,554 L364,562.7 L367.4,562.7 L367.4,551.5 L371.6,547.2 L375.8,544.4 L378,546 L378.7,548.7 L380.1,559.9 L384.3,564.1 C385,560 386,557 387.5,557 C389,557 389,563 390.5,563 C392,563 392,556 393.5,556 C395,556 395,561.5 396.5,561.5 C398,561.5 398,553 399.7,544.4 L402.5,530.4 L406.7,527.6 L411.2,526"/>
<path stroke-width="1.2" d="M339.6,579 C341,575.5 348,575 350.2,578 C350.5,581.5 343,583.5 339.6,579 Z"/>
<!-- vents left group -->
<path stroke-width="1" d="M327.1,527.9 L327.1,501.9 Q328.1,499.9 329.1,501.9 L329.1,528.7 M332.7,530.1 L332.7,504.1 Q333.7,502.1 334.7,504.1 L334.7,530.9 M338.3,533.0 L338.3,507.0 Q339.3,505.0 340.3,507.0 L340.3,533.8 M343.9,535.8 L343.9,509.8 Q344.9,507.8 345.9,509.8 L345.9,536.6 M349.5,538.6 L349.5,512.6 Q350.5,510.6 351.5,512.6 L351.5,539.4 M355.1,541.4 L355.1,515.4 Q356.1,513.4 357.1,515.4 L357.1,542.2 M360.7,544.2 L360.7,518.2 Q361.7,516.2 362.7,518.2 L362.7,545.0 M366.3,547.0 L366.3,521.0 Q367.3,519.0 368.3,521.0 L368.3,547.8"/>
<path stroke-width="1" d="M322.1,528.4 Q320.6,530.4 323.1,530.9 L328.6,529.7 M327.7,530.6 Q326.2,532.6 328.7,533.1 L334.2,531.9 M333.3,533.5 Q331.8,535.5 334.3,536.0 L339.8,534.8 M338.9,536.3 Q337.4,538.3 339.9,538.8 L345.4,537.6 M344.5,539.1 Q343.0,541.1 345.5,541.6 L351.0,540.4 M350.1,541.9 Q348.6,543.9 351.1,544.4 L356.6,543.2 M355.7,544.7 Q354.2,546.7 356.7,547.2 L362.2,546.0 M361.3,547.5 Q359.8,549.5 362.3,550.0 L367.8,548.8"/>
<!-- vents right group -->
<path stroke-width="1" d="M430.0,575.5 L430.0,550.1 Q431.0,548.1 432.0,550.1 L432.0,576.3 M435.8,577.8 L435.8,552.4 Q436.8,550.4 437.8,552.4 L437.8,578.6 M444.4,581.3 L444.4,557.6 Q445.4,555.6 446.4,557.6 L446.4,582.1 M449.6,583.3 L449.6,559.3 Q450.6,557.3 451.6,559.3 L451.6,584.1 M456.0,585.9 L456.0,562.2 Q457.0,560.2 458.0,562.2 L458.0,586.7"/>
<path stroke-width="1" d="M424.0,576.5 Q423.0,578.5 425.0,579.0 L431.5,577.0 M429.8,578.8 Q428.8,580.8 430.8,581.3 L437.3,579.3 M438.4,582.3 Q437.4,584.3 439.4,584.8 L445.9,582.8 M443.6,584.3 Q442.6,586.3 444.6,586.8 L451.1,584.8 M450.0,586.9 Q449.0,588.9 451.0,589.4 L457.5,587.4"/>
<path stroke-width="1.2" d="M472.3,555 L472.6,586 M476.9,556.8 L477.2,588 M479.5,557.8 L480,589 M484.7,560 L486.5,590 M488.2,561.5 L490,591"/>
<!-- posts -->
<path stroke-width="1.5" fill="#fff" d="M402.8,572 L402.8,585.5 C402.8,589.5 411.2,589.5 411.2,585.5 L411.2,572"/>
<ellipse cx="407" cy="572" rx="4.2" ry="2.6" stroke-width="1.5" fill="#fff"/>
<path stroke-width="1.5" fill="#fff" d="M438.5,591 L438.5,596.5 C438.5,599.5 447.7,599.5 447.7,596.5 L447.7,591"/>
<ellipse cx="443.1" cy="591" rx="4.6" ry="2.6" stroke-width="1.5" fill="#fff"/>
<path stroke-width="1.4" d="M306.7,585 L306.7,578.5 C306.7,576.5 310,576.5 310,578.5 L310,586 M322,583 L322,577 C322,575 325,575 325,577 L325,585"/>
<path stroke-width="1.1" d="M401,610.4 L458.5,673.8 L644,673.8"/>
</g>


<!-- FRONT PANEL -->
<g id="panel">
<path stroke-width="2" fill="#fff" d="M512.1,524.7 L524.2,523.7 L608.2,476.1 L611.2,477.1 L620.3,543.9 L535.4,594.5 L515.1,595.5 L514.1,594.5 Z"/>
<path stroke-width="1.1" d="M524.2,523.7 L535.4,594.5 M515.3,526.5 L516.3,594 M525,526.7 L609,479.5 M524.6,521.8 L607.5,474.5"/>
<path stroke-width="1.4" d="M598.5,478 L598.5,473.5 C598.5,470.5 605,469.5 605,472.5 L605,477"/>
<!-- clips -->
<path stroke-width="1.6" fill="#fff" d="M578.9,501 L583,498.4 L590,502 L595,511 L595,532 L581.5,540.9 L578.9,511 Z"/>
<path stroke-width="1.6" d="M583,498.4 C587,505 590,515 589,524 C588,528 583,529.5 583,525 C583,521 587,519 589.5,522 M586.5,502 C590,510 592,518 591,527"/>
<path stroke-width="1.6" fill="#fff" d="M595,491.5 L598,489.3 L605,494 L612.2,511 L612.2,524 L598,531.8 L595,511 Z"/>
<path stroke-width="1.6" d="M598,489.3 C603,497 607,508 606,516 C605,520 600,521 600,517 C600,513 604,511 606.5,514 M601.5,491.5 C606,500 609,509 608.5,518 M595.5,493 C596,503 597,515 596.5,526"/>
<ellipse cx="548" cy="548.5" rx="3.8" ry="5" stroke-width="1.5" transform="rotate(20 548 548.5)"/>
<path stroke-width="1.1" d="M552.6,551 L565.7,558.1"/>
<!-- knob -->
<path stroke-width="1.9" fill="#fff" d="M568,555.5 C562.5,558 561.5,564 561.8,569 C562,575 564.5,581 569.5,583.5 C573,585.5 578,586.5 583,586 L588,585 L588,554 L581,552.5 C576,552 571.5,553.5 568,555.5 Z"/>
<path stroke-width="1.3" d="M568,556 C564.5,560 564,566 564.3,570 C564.7,575 566.5,580 570,583"/>
<path stroke-width="1.1" d="M568.5,556.2 L585.2,553.8 M566.9,558.2 L585.2,555.8 M566.1,560.2 L585.2,557.8 M565.6,562.2 L580.6,559.8 M565.3,564.2 L578.4,561.8 M565.1,566.2 L577.2,563.8 M565.0,568.2 L576.5,565.8 M564.9,570.2 L576.2,567.8 M564.9,572.2 L576.3,569.8 M565.0,574.2 L576.9,571.8 M565.2,576.2 L578.0,573.8 M565.5,578.2 L579.8,575.8 M565.9,580.2 L583.8,577.8 M566.4,582.2 L585.2,579.8 M567.5,584.2 L585.2,581.8 M568.5,586.2 L585.2,583.8"/>
<path stroke-width="2.4" fill="#fff" stroke-dasharray="2.4 1" d="M577.5,562 C578.5,557 582,555.5 586.5,556.5 C592,558 596.2,563 596.2,569.5 C596.2,576 592,581 586.5,582.3 C582.5,583 579,580.5 577.3,577"/>
<path stroke-width="1.1" d="M582.9,572.2 L617.7,630 L643,630"/>
<path stroke-width="1.1" d="M601.8,491.6 L644.7,491.6"/>
</g>
<!-- SWITCH -->
<g id="switch">
<path stroke-width="1.7" fill="#fff" d="M633.4,525.4 L646.4,517.6 L659.4,524.1 L661.4,523.4 L662.7,549.4 L645.1,560.5 L644.5,557.2 L632.8,550.1 Z"/>
<path stroke-width="1.2" d="M633.4,525.4 L644.5,531.9 L659.4,524.1 M644.5,531.9 L644.5,557.2"/>
<path stroke-width="2.2" d="M643.8,531.9 L661.4,523.4 L662.7,549.4 L645.1,560.5 Z"/>
<path stroke-width="1.3" d="M646,533.5 L660,526.5 L661,548.5 L647,557.5 Z"/>
<path stroke-width="1.6" fill="#fff" d="M649,536.5 L659.5,531.5 L660.1,545 L650.3,554.6 Z"/>
<path stroke-width="1.2" d="M649.5,545 L660,538.5"/>
<path stroke-width="1" d="M641,522 l3,-1.5 M643,524 l3,-1.5 l0,2 M647.5,520 l3,1"/>
<path stroke-width="2.2" d="M631.5,525 L631.5,528.5 M631.5,535 L631.5,538.5"/>
<path stroke-width="1.1" d="M659.4,542.9 L660.1,581.3"/>
</g>
<!-- POT -->
<g id="pot">
<path fill="#fff" stroke-width="2.6" d="M519.8,508.5 L518.0,510.0 L518.9,512.0 L516.4,512.9 L516.3,515.0 L513.6,515.1 L512.5,517.0 L510.0,516.3 L508.0,517.7 L506.0,516.3 L503.5,517.0 L502.4,515.1 L499.7,515.0 L499.6,512.9 L497.1,512.0 L498.0,510.0 L496.2,508.5 L498.0,507.0 L497.1,505.0 L499.6,504.1 L499.7,502.0 L502.4,501.9 L503.5,500.0 L506.0,500.7 L508.0,499.3 L510.0,500.7 L512.5,500.0 L513.6,501.9 L516.3,502.0 L516.4,504.1 L518.9,505.0 L518.0,507.0 Z"/>
<path fill="#111" stroke="none" d="M497.5,505 C498,500 518,500 518.5,505 L518,509 C514,507 502,507 498,509 Z"/>
<ellipse cx="508" cy="502" rx="9" ry="3.6" stroke-width="2.2" fill="#fff"/>
<path stroke-width="2.2" d="M508,508 L508,518.5 M503,512 C505,514.5 511,514.5 513,512"/>
<path fill="#111" stroke-width="1" d="M502.1,483.5 L502.1,501 C502.1,503.5 513.2,503.5 513.2,501 L513.2,483.5 C513.2,480.5 502.1,480.5 502.1,483.5 Z"/>
<ellipse cx="507.7" cy="484.3" rx="4.2" ry="2.2" fill="#fff" stroke="none"/>
<path stroke="#ccc" stroke-width="1" d="M508.1,486.5 L508.1,502"/>
<path stroke-width="1.1" d="M512,484.3 L577.9,450.3 L637.8,450.3"/>
</g>
<!-- terminal + screw + 89 -->
<g id="misc89">
<path stroke-width="1.1" d="M643.2,377.5 L465.7,401.6"/>
<path stroke-width="1.4" fill="#fff" d="M449,392 L462,399 L459.5,405 L447,397 Z"/>
<path stroke-width="1" d="M451,392.5 l-2,5 M454,394 l-2,5 M457,395.5 l-2,5 M460,397.5 l-2,5"/>
<ellipse cx="465" cy="402" rx="4.6" ry="5.6" stroke-width="1.6" fill="#fff" transform="rotate(20 465 402)"/>
<path stroke-width="1" d="M462.5,398.5 L466.5,404 M465.5,398 L468,401"/>
<path stroke-width="1.1" stroke-dasharray="5 3" d="M434.9,386.6 L447,393.5 M398.3,365.4 L422.1,379.4"/>
<ellipse cx="429.5" cy="382.8" rx="4.6" ry="5.4" stroke-width="2.6" transform="rotate(30 429.5 382.8)"/>
<path stroke-width="3.4" d="M422,389.5 C412,394 398,402 385,409.8"/>
<path fill="#000" stroke-width="1" d="M418,387 L424.5,385.5 L425.5,390.5 L420,393 Z"/>
<text x="650" y="386.7" font-size="28" font-weight="bold" fill="#000" stroke="none" font-family="Liberation Sans, sans-serif">89</text>
</g>

<path stroke-width="1.6" stroke="#333" d="M0,263.8 L1.5,264.3"/>
</svg>
</body></html>
